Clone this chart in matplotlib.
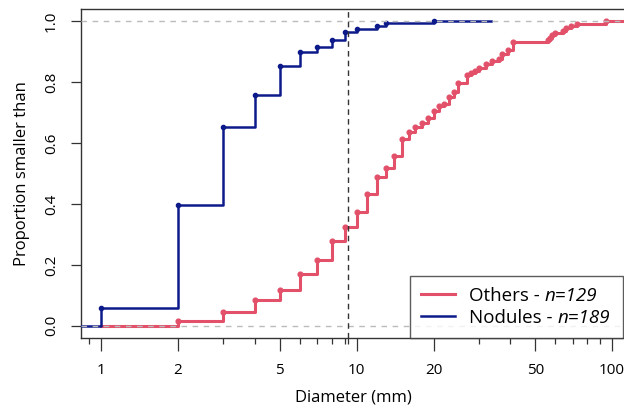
import numpy as np
import matplotlib
matplotlib.use("Agg")
import matplotlib.pyplot as plt
from matplotlib.ticker import FixedLocator, NullFormatter

plt.rcParams['font.family'] = ['Open Sans', 'DejaVu Sans']

# ECDF jumps: diameter (mm) and proportion reached at that diameter
others_d = [2, 3, 4, 5, 6, 7, 8, 9, 10, 11, 12, 13, 14, 15, 16, 17, 18, 19, 20, 21,
            22, 23, 24, 25, 27, 28, 29, 30, 32, 34, 36, 37, 39, 41, 56, 57, 58, 60,
            64, 66, 69, 73, 95]
others_p = [0.016, 0.047, 0.085, 0.116, 0.171, 0.217, 0.279, 0.326, 0.372, 0.434,
            0.488, 0.519, 0.558, 0.612, 0.636, 0.651, 0.667, 0.682, 0.705, 0.721,
            0.729, 0.752, 0.767, 0.798, 0.822, 0.829, 0.837, 0.845, 0.860, 0.868,
            0.876, 0.891, 0.907, 0.930, 0.938, 0.946, 0.953, 0.961, 0.969, 0.977,
            0.984, 0.992, 1.0]

nodules_d = [1, 2, 3, 4, 5, 6, 7, 8, 9, 10, 12, 13, 20]
nodules_p = [0.058, 0.397, 0.651, 0.757, 0.852, 0.899, 0.915, 0.937, 0.963, 0.974,
             0.984, 0.995, 1.0]

groups = ['Others - ', 'Nodules - ']
counts = ['n=129', 'n=189']

cutoff = 9.26
x_major = [1, 2, 5, 10, 20, 50, 100]
x_minor = [0.9, 3, 4, 6, 7, 8, 9, 30, 40, 60, 70, 80, 90]
y_ticks = [0.0, 0.2, 0.4, 0.6, 0.8, 1.0]

red = '#E2506A'
blue = '#0D1A8A'

fig = plt.figure(figsize=(6.24, 4.12), dpi=100)
ax = fig.add_axes([0.1298, 0.1796, 0.8735, 0.7986])

xmin, xmax = 0.834, 113.4

# Others
xs = [1] + others_d + [xmax * 1.2]
ys = [0] + others_p + [others_p[-1]]
ax.step(xs, ys, where='post', color=red, lw=2.2, zorder=3)
ax.plot(others_d, others_p, 'o', color=red, ms=3.4, zorder=3)

# Nodules
xs = [0.5] + nodules_d + [33.5]
ys = [0] + nodules_p + [nodules_p[-1]]
ax.step(xs, ys, where='post', color=blue, lw=1.8, zorder=4)
ax.plot(nodules_d, nodules_p, 'o', color=blue, ms=3.0, zorder=4)

# reference lines
for h in [0, 1]:
    ax.axhline(h, color='#BBBBBB', lw=1.0, ls=(0, (4, 4)), zorder=5)
ax.axvline(cutoff, color='#333333', lw=1.0, ls=(0, (4, 3)), zorder=5)

ax.set_xscale('log')
ax.set_xlim(xmin, xmax)
ax.set_ylim(-0.04, 1.04)

ax.xaxis.set_major_locator(FixedLocator(x_major))
ax.set_xticklabels([str(v) for v in x_major])
ax.xaxis.set_minor_locator(FixedLocator(x_minor + [cutoff]))
ax.xaxis.set_minor_formatter(NullFormatter())
ax.set_yticks(y_ticks)
ax.set_yticklabels(['0.0', '0.2', '0.4', '0.6', '0.8', '1.0'], rotation=90, va='center')

ax.tick_params(axis='x', which='major', length=9, width=0.9, pad=9, labelsize=11, color='#333333')
ax.tick_params(axis='x', which='minor', length=4.5, width=0.9, color='#333333')
ax.tick_params(axis='y', length=7, width=0.9, pad=9, labelsize=11, color='#333333')

for s in ax.spines.values():
    s.set_color('#333333')
    s.set_linewidth(1.0)

ax.set_xlabel('Diameter (mm)', fontsize=12, labelpad=8)
ax.set_ylabel('Proportion smaller than', fontsize=12, labelpad=10)

# legend: full label sizes the box, then overlay upright group + italic count
h1, = ax.plot([], [], color=red, lw=2.2)
h2, = ax.plot([], [], color=blue, lw=1.8)
fs = 13.5
leg = ax.legend([h1, h2], [g + c for g, c in zip(groups, counts)],
                loc='lower left', bbox_to_anchor=(0.6037, 0.0), borderaxespad=0,
                fontsize=fs, fancybox=False, frameon=True, edgecolor='#333333',
                handlelength=1.8, handletextpad=0.75, labelspacing=0.2,
                borderpad=0.6)
leg.get_frame().set_linewidth(1.0)
leg.set_zorder(6)
for t, g, c in zip(leg.get_texts(), groups, counts):
    t.set_alpha(0)
    a = ax.annotate(g, xy=(0, 0), xycoords=t, ha='left', va='bottom',
                    fontsize=fs, zorder=7, annotation_clip=False)
    ax.annotate(c, xy=(1, 0), xycoords=a, ha='left', va='bottom',
                fontsize=fs, style='italic', zorder=7, annotation_clip=False)

fig.savefig('out.png', dpi=100)
